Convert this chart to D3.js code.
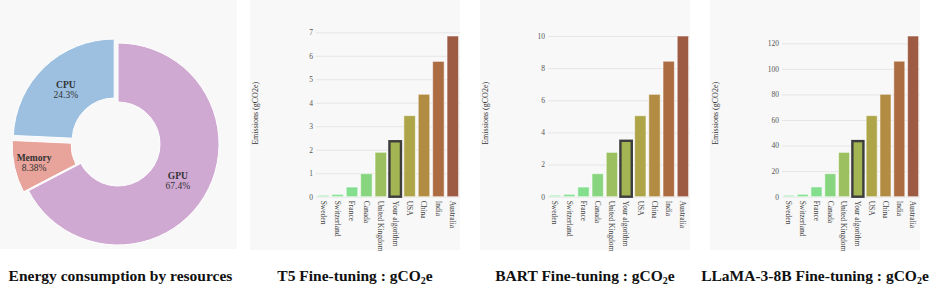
<!DOCTYPE html>
<html>
<head>
<meta charset="utf-8">
<script src="https://cdn.jsdelivr.net/npm/d3@7"></script>
<style>
  html, body { margin: 0; padding: 0; background: #fff; }
  svg { display: block; }
  svg text { font-family: "Liberation Serif", "Times New Roman", Times, serif !important; }
</style>
</head>
<body>
<svg id="chart" width="950" height="290"></svg>
<script>
"use strict";

// --- data ---
const resources = ["GPU", "Memory", "CPU"];
const resourceShares = [67.4, 8.38, 24.3];
const resourceLabels = ["67.4%", "8.38%", "24.3%"];
const resourceColors = ["#d0a9d2", "#e8a39b", "#9dc0e1"];

const countries = ["Sweden", "Switzerland", "France", "Canada", "United Kingdom",
  "Your algorithm", "USA", "China", "India", "Australia"];
const countryColors = ["#90e6a3", "#89e295", "#83de8e", "#88d57f", "#9cc05f",
  "#a3b553", "#aea549", "#b18c42", "#ac6c42", "#9e5b44"];
const t5Values = [0.06, 0.10, 0.41, 0.98, 1.89, 2.36, 3.45, 4.36, 5.76, 6.84];
const bartValues = [0.09, 0.15, 0.60, 1.43, 2.76, 3.48, 5.04, 6.37, 8.43, 10.0];
const llamaValues = [1.1, 1.9, 7.6, 18.0, 34.7, 43.5, 63.4, 80.1, 106, 125.7];
const t5Ticks = [0, 1, 2, 3, 4, 5, 6, 7];
const bartTicks = [0, 2, 4, 6, 8, 10];
const llamaTicks = [0, 20, 40, 60, 80, 100, 120];

const svg = d3.select("#chart");
const FONT = "'Liberation Serif', 'Times New Roman', serif";
const PANEL_BG = "#f8f8f8";
const PANEL_BOTTOM = 250;

// --- 1. donut ---
function drawDonut() {
  const L = { x: 0, w: 237, cx: 118, cy: 144, R: 101, r: 42 };
  const pulls = { GPU: 0, Memory: 5, CPU: 5.5 };
  const labelR = { GPU: 70, Memory: 81, CPU: 70 };

  svg.append("rect").attr("x", L.x).attr("y", 0).attr("width", L.w).attr("height", PANEL_BOTTOM - 1)
    .attr("fill", PANEL_BG);

  const slices = d3.pie().sort(null).value(d => d.v)(
    resources.map((name, i) => ({ name, v: resourceShares[i], pct: resourceLabels[i], color: resourceColors[i] })));
  const arc = d3.arc().innerRadius(L.r).outerRadius(L.R);

  const g = svg.append("g").attr("transform", `translate(${L.cx},${L.cy})`);
  slices.forEach(s => {
    const mid = (s.startAngle + s.endAngle) / 2;
    const p = pulls[s.data.name];
    const dx = Math.sin(mid), dy = -Math.cos(mid);
    g.append("path")
      .attr("d", arc(s))
      .attr("transform", `translate(${dx * p},${dy * p})`)
      .attr("fill", s.data.color).attr("stroke", "#fff").attr("stroke-width", 1);

    const lr = labelR[s.data.name] + p;
    const t = g.append("text").attr("text-anchor", "middle").attr("fill", "#333")
      .style("font-family", FONT).style("font-size", "9.5px")
      .attr("transform", `translate(${dx * lr},${dy * lr})`);
    t.append("tspan").attr("x", 0).attr("y", -1.5).style("font-weight", "bold").text(s.data.name);
    t.append("tspan").attr("x", 0).attr("y", 8.5).text(s.data.pct);
  });

  svg.append("text").attr("x", L.x + L.w / 2 + 2).attr("y", 281).attr("text-anchor", "middle")
    .style("font-family", FONT).style("font-size", "15.5px").style("font-weight", "bold").attr("fill", "#111")
    .text("Energy consumption by resources");
}

// --- 2. bar panels ---
function drawBars(px, plotLeft, values, ticks, model) {
  const pw = 210, plotRight = px + pw, zeroY = 196.7, topY = 36;

  svg.append("rect").attr("x", px).attr("y", 0).attr("width", pw).attr("height", PANEL_BOTTOM)
    .attr("fill", PANEL_BG);

  const x = d3.scaleBand().domain(countries).range([plotLeft, plotRight]).paddingInner(0.2).paddingOuter(0.1);
  const y = d3.scaleLinear().domain([0, d3.max(values)]).range([zeroY, topY]);

  const g = svg.append("g");

  // grid + y ticks
  const yAxis = d3.axisLeft(y).tickValues(ticks).tickSize(-(plotRight - plotLeft)).tickPadding(3).tickFormat(d3.format("d"));
  const ya = g.append("g").attr("transform", `translate(${plotLeft},0)`).call(yAxis)
    .attr("font-family", FONT);
  ya.select(".domain").remove();
  ya.selectAll(".tick line").attr("stroke", "#e6e6e6").attr("stroke-width", 1);
  ya.selectAll(".tick text").attr("fill", "#555").style("font-size", "7.5px").style("font-family", FONT);

  // bars
  countries.forEach((c, i) => {
    const mine = c === "Your algorithm";
    g.append("rect")
      .attr("x", x(c)).attr("y", y(values[i]))
      .attr("width", x.bandwidth()).attr("height", zeroY - y(values[i]))
      .attr("fill", countryColors[i])
      .attr("stroke", mine ? "#3d3d3d" : "rgba(255,255,255,0.55)")
      .attr("stroke-width", mine ? 2.4 : 1);
  });

  // x labels, rotated
  countries.forEach(c => {
    g.append("text")
      .attr("transform", `translate(${x(c) + x.bandwidth() / 2},${zeroY + 4}) rotate(90)`)
      .attr("dy", "0.35em").attr("fill", "#444")
      .style("font-family", FONT).style("font-size", "7.5px")
      .text(c);
  });

  // y title
  svg.append("text")
    .attr("transform", `translate(${px + 7.5},${(zeroY + 30) / 2}) rotate(-90)`)
    .attr("text-anchor", "middle").attr("fill", "#333")
    .style("font-family", FONT).style("font-size", "8px")
    .text("Emissions (gCO2e)");

  // bottom title with subscript
  const t = svg.append("text").attr("x", px + pw / 2).attr("y", 281).attr("text-anchor", "middle")
    .style("font-family", FONT).style("font-size", "15.5px").style("font-weight", "bold").attr("fill", "#111");
  t.append("tspan").text(`${model} Fine-tuning : gCO`);
  t.append("tspan").attr("dy", 3).style("font-size", "10px").text("2");
  t.append("tspan").attr("dy", -3).text("e");
}

drawDonut();
drawBars(250, 316, t5Values, t5Ticks, "T5");
drawBars(480, 548, bartValues, bartTicks, "BART");
drawBars(710, 782, llamaValues, llamaTicks, "LLaMA-3-8B");
</script>
</body>
</html>
